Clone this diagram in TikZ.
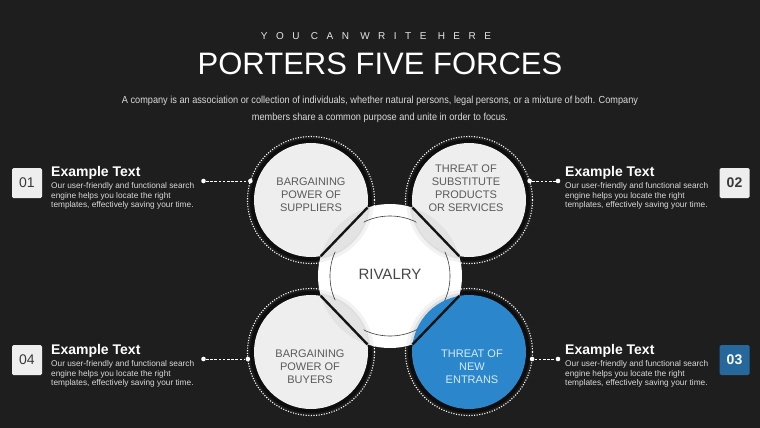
\documentclass[tikz,border=0pt]{standalone}
\usepackage{fontspec}
\setmainfont{Liberation Sans}
\newfontfamily\narrowfont[FakeStretch=0.9]{Liberation Sans}
\newfontfamily\spacedfont[LetterSpace=85]{Liberation Sans}

\definecolor{bgdark}{HTML}{1E1E1E}
\definecolor{banddark}{HTML}{0E0E0E}
\definecolor{lightface}{HTML}{EEEEEE}
\definecolor{lensgray}{HTML}{E3E3E3}
\definecolor{forceblue}{HTML}{2B86CB}
\definecolor{boxblue}{HTML}{27689C}
\definecolor{labelgray}{HTML}{5A5A5A}
\definecolor{bodygray}{HTML}{DADADA}
\definecolor{entrantext}{HTML}{D4ECFB}

\begin{document}
\begin{tikzpicture}[x=1pt, y=-1pt,
  ring/.style={white, line width=1.1pt, dash pattern=on 1.1pt off 1.5pt},
  link/.style={white, line width=0.8pt, dash pattern=on 2.6pt off 1.6pt},
  tip/.style={circle, fill=white, inner sep=0pt, minimum size=4.6pt},
  numbox/.style={rounded corners=1.5pt, fill=lightface, minimum size=30pt, inner sep=0pt, text=black!78, font=\fontsize{14}{14}\selectfont},
  head/.style={anchor=base west, inner sep=0pt, text=white, font=\bfseries\fontsize{14}{14}\selectfont},
  body/.style={anchor=north west, inner sep=0pt, align=left, text=bodygray, font=\fontsize{8.3}{9.8}\selectfont},
  force/.style={align=center, inner sep=0pt, text=labelgray, font=\fontsize{11}{13}\selectfont}]
% 背景
\fill[bgdark] (0,0) rectangle (760,428);
% 标题
\node[inner sep=0pt, text=white!90!black, font=\spacedfont\fontsize{10}{10}\selectfont] (kicker) at (376,36) {YOU CAN WRITE HERE};
\node[inner sep=0pt, text=white, font=\fontsize{31}{31}\selectfont] (title) at (380,64) {PORTERS FIVE FORCES};
\node[anchor=base, inner sep=0pt, text=bodygray, font=\narrowfont\fontsize{10.2}{10.2}\selectfont] (desc1) at (380,103) {A company is an association or collection of individuals, whether natural persons, legal persons, or a mixture of both. Company};
\node[anchor=base, inner sep=0pt, text=bodygray, font=\narrowfont\fontsize{10.2}{10.2}\selectfont] (desc2) at (380,120) {members share a common purpose and unite in order to focus.};
% 外圈：黑环与点线
\foreach \sx/\sy in {-1/-1, 1/-1, -1/1, 1/1} {
  \fill[banddark] (390+\sx*79, 276+\sy*76) circle (61);
  \draw[ring] (390+\sx*79, 276+\sy*76) circle (63.5);
}
% 中心圆 RIVALRY
\fill[white] (390,276) circle (72);
\draw[black!75, line width=0.6pt] (390,276) circle (60);
\begin{scope}
  \clip (390,276) circle (72);
  \foreach \sx/\sy in {-1/-1, 1/-1, -1/1, 1/1} {
    \draw[black, opacity=0.05, line width=6pt] (390+\sx*79, 276+\sy*76) circle (60);
    \draw[black, opacity=0.08, line width=2.6pt] (390+\sx*79, 276+\sy*76) circle (58.3);
  }
\end{scope}
% 四个力
\foreach \sx/\sy/\col in {-1/-1/lightface, 1/-1/lightface, -1/1/lightface, 1/1/forceblue}
  \fill[\col] (390+\sx*79, 276+\sy*76) circle (57);
\begin{scope}
  \clip (390,276) circle (72);
  \foreach \sx/\sy in {-1/-1, 1/-1, -1/1}
    \fill[lensgray] (390+\sx*79, 276+\sy*76) circle (57);
\end{scope}
% 弦
\foreach \sx/\sy in {-1/-1, 1/-1, -1/1, 1/1}
  \draw[black!92, line width=2.4pt] (390+\sx*22.54, 276+\sy*68.39) -- (390+\sx*69.22, 276+\sy*19.87);
% 文字
\node[inner sep=0pt, text=black!72, font=\fontsize{15}{15}\selectfont] (rivalry) at (390,274) {RIVALRY};
\node[force] (suppliers) at (311,194.5) {BARGAINING\\POWER OF\\SUPPLIERS};
\node[force] (substitutes) at (466,188) {THREAT OF\\SUBSTITUTE\\PRODUCTS\\OR SERVICES};
\node[force] (buyers) at (310,367) {BARGAINING\\POWER OF\\BUYERS};
\node[force, text=entrantext] (entrants) at (472,367) {THREAT OF\\NEW\\ENTRANS};
% 编号
\node[numbox] (num1) at (27,183) {01};
\node[numbox, font=\bfseries\fontsize{14}{14}\selectfont] (num2) at (734.5,183) {02};
\node[numbox, fill=boxblue, text=white, font=\bfseries\fontsize{14}{14}\selectfont] (num3) at (734.5,360) {03};
\node[numbox] (num4) at (27,360) {04};
% 说明文字
\foreach \x/\y/\k in {51/176/1, 565/176/2, 51/354/4, 565/354/3} {
  \node[head] (head\k) at (\x,\y) {Example Text};
  \node[body] (body\k) at (\x,\y+6.1) {Our user-friendly and functional search\\engine helps you locate the right\\templates, effectively saving your time.};
}
% 连线
\foreach \a/\b/\y/\k in {203.5/250.4/181/1, 529.6/558/181/2, 203.5/247.9/359/4, 532.1/558/359/3} {
  \node[tip] (tipa\k) at (\a,\y) {};
  \node[tip] (tipb\k) at (\b,\y) {};
  \draw[link] (tipa\k) -- (tipb\k);
}
\end{tikzpicture}
\end{document}
